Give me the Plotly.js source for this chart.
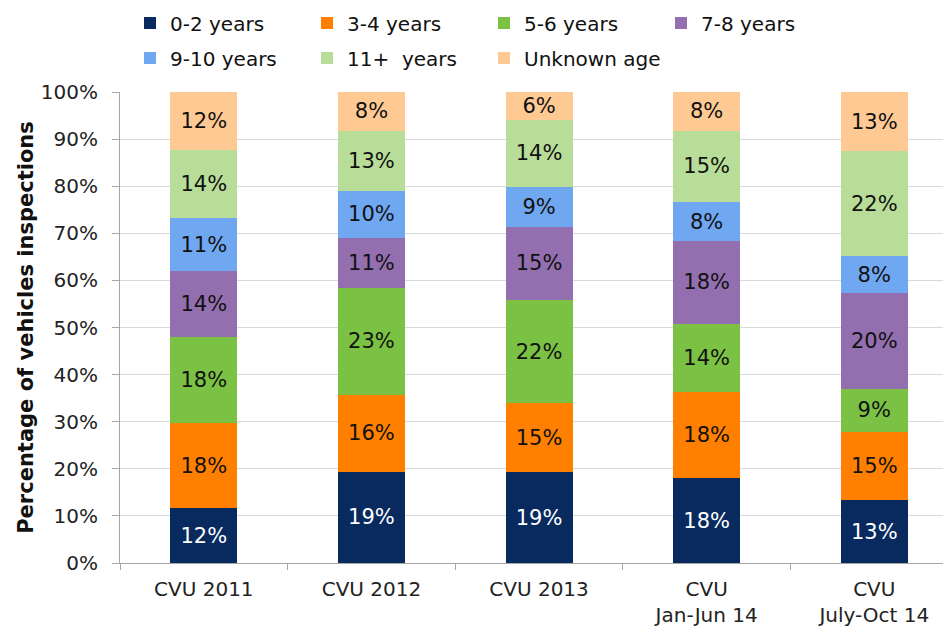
<!DOCTYPE html>
<html>
<head>
<meta charset="utf-8">
<script src="https://cdn.plot.ly/plotly-3.0.1.min.js"></script>
<style>html,body{margin:0;padding:0;background:#fff;}#chart{width:943px;height:628px;}</style>
</head>
<body>
<div id="chart"></div>
<script>
const categories = ['CVU 2011', 'CVU 2012', 'CVU 2013', 'CVU<br>Jan-Jun 14', 'CVU<br>July-Oct 14'];
const seriesNames = ['0-2 years', '3-4 years', '5-6 years', '7-8 years', '9-10 years', '11+  years', 'Unknown age'];
const age0to2   = [11.6, 19.4, 19.3, 18.0, 13.3];
const age3to4   = [18.1, 16.3, 14.6, 18.4, 14.6];
const age5to6   = [18.2, 22.7, 22.0, 14.4, 9.0];
const age7to8   = [14.0, 10.7, 15.4, 17.6, 20.4];
const age9to10  = [11.4, 9.9, 8.6, 8.2, 7.9];
const age11plus = [14.3, 12.8, 14.2, 15.2, 22.2];
const ageUnknown = [12.4, 8.2, 5.9, 8.2, 12.6];
const yTickVals = [0, 10, 20, 30, 40, 50, 60, 70, 80, 90, 100];

const seriesValues = [age0to2, age3to4, age5to6, age7to8, age9to10, age11plus, ageUnknown];
const colors = ['#082a5e', '#ff8000', '#7bc143', '#936fb0', '#6fa7f0', '#b8dd98', '#ffc993'];
const textColors = ['#ffffff', '#111111', '#111111', '#111111', '#111111', '#111111', '#111111'];
const legendIds = ['legend', 'legend', 'legend', 'legend', 'legend2', 'legend2', 'legend2'];

const FONT = 'DejaVu Sans, Verdana, sans-serif';

const traces = seriesNames.map((name, i) => ({
  type: 'bar',
  name: name,
  x: categories,
  y: seriesValues[i],
  marker: {color: colors[i], line: {width: 0}},
  texttemplate: '%{y:.0f}%',
  textposition: 'inside',
  insidetextanchor: 'middle',
  constraintext: 'none',
  textangle: 0,
  textfont: {family: FONT, size: 21, color: textColors[i]},
  hoverinfo: 'skip',
  legend: legendIds[i]
}));

const legendCommon = {
  orientation: 'h',
  xref: 'container', yref: 'container',
  x: 130 / 943, xanchor: 'left',
  yanchor: 'middle',
  font: {family: FONT, size: 20, color: '#111111'},
  entrywidth: 132,
  entrywidthmode: 'pixels',
  bgcolor: 'rgba(0,0,0,0)',
  traceorder: 'normal',
  itemclick: false, itemdoubleclick: false
};

const layout = {
  width: 943, height: 628,
  margin: {l: 120, r: 0, t: 92, b: 65, pad: 0},
  paper_bgcolor: '#ffffff',
  plot_bgcolor: '#ffffff',
  barmode: 'stack',
  bargap: 0.6,
  font: {family: FONT, size: 20, color: '#222222'},
  showlegend: true,
  legend: Object.assign({}, legendCommon, {y: 1 - 23 / 628}),
  legend2: Object.assign({}, legendCommon, {y: 1 - 58 / 628}),
  xaxis: {
    type: 'category',
    range: [-0.5, 4.41],
    showgrid: false,
    showline: true, linecolor: '#a6a6a6', linewidth: 1,
    ticks: 'outside', tickson: 'boundaries', ticklen: 6, tickcolor: '#a6a6a6',
    tickfont: {family: FONT, size: 20, color: '#222222'},
    ticklabelstandoff: 8,
    fixedrange: true
  },
  yaxis: {
    range: [0, 100],
    tickvals: yTickVals,
    ticktext: yTickVals.map(v => v + '%'),
    showgrid: true, gridcolor: '#d9d9d9', gridwidth: 1,
    showline: true, linecolor: '#a6a6a6', linewidth: 1,
    ticks: 'outside', ticklen: 7, tickcolor: '#a6a6a6',
    tickfont: {family: FONT, size: 20, color: '#222222'},
    ticklabelstandoff: 10,
    zeroline: false,
    title: {text: 'Percentage of vehicles inspections', font: {family: FONT, size: 21, color: '#111111', weight: 'bold'}, standoff: 1},
    fixedrange: true
  }
};

Plotly.newPlot('chart', traces, layout, {displayModeBar: false, staticPlot: true});
</script>
</body>
</html>
